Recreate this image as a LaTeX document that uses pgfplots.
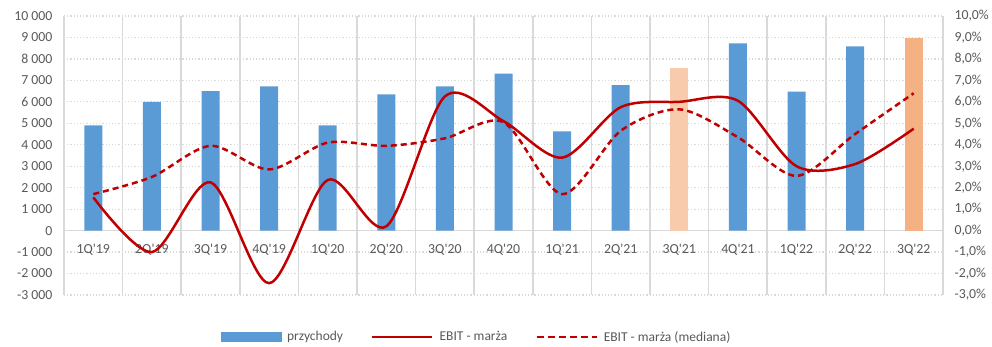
\documentclass[border=0pt]{standalone}
\usepackage{fontspec}
\setmainfont{Carlito}[Ligatures=TeXOff]
\usepackage{pgfplots}
\pgfplotsset{compat=1.18}
\definecolor{barblue}{HTML}{5B9BD5}
\definecolor{peachl}{HTML}{F8CBAD}
\definecolor{peachd}{HTML}{F4B183}
\definecolor{ebit}{HTML}{C00000}
\definecolor{gridc}{HTML}{D9D9D9}
\definecolor{txt}{HTML}{595959}
\pgfplotsset{
 common/.style={
  scale only axis, width=879pt, height=279pt, at={(64pt,52pt)}, anchor=south west,
  xmin=-0.5, xmax=14.5,
  /pgf/number format/assume math mode=true,
 }
}
\newcommand{\tickfont}{\fontsize{13.8}{16}\selectfont}
\begin{document}
\begin{tikzpicture}
\useasboundingbox (0,0) rectangle (992pt,347pt);
\begin{axis}[common,
 ymin=-3000, ymax=10000, ytick={-3000,-2000,...,10000},
 scaled y ticks=false,
 axis line style={draw=none},
 tick style={draw=none},
 major tick length=0pt, minor tick length=0pt,
 ymajorgrids, major grid style={gridc, line width=1.2pt, dash pattern=on 1.2pt off 2pt},
 xtick={0,...,14},
 xticklabels={1Q'19,2Q'19,3Q'19,4Q'19,1Q'20,2Q'20,3Q'20,4Q'20,1Q'21,2Q'21,3Q'21,4Q'21,1Q'22,2Q'22,3Q'22},
 minor xtick={-0.5,0.5,...,14.5},
 xminorgrids, minor grid style={gridc, line width=1.5pt},
 extra y ticks={0}, extra y tick labels={},
 extra y tick style={grid=major, major grid style={gridc, line width=1.5pt, solid}},
 ytick pos=left, xtick pos=bottom,
 yticklabel style={font=\tickfont, text=txt, xshift=-8pt},
 /pgf/number format/1000 sep={\ },
 xticklabel style={font=\tickfont, text=txt, yshift=54pt},
 ybar, bar width=18pt,
]
\addplot[fill=barblue, draw=none, bar shift=0pt] coordinates {
(0,4900) (1,6000) (2,6500) (3,6720) (4,4900) (5,6350) (6,6720) (7,7320)
(8,4620) (9,6780) (11,8720) (12,6480) (13,8580)};
\addplot[fill=peachl, draw=none, bar shift=0pt] coordinates {(10,7570)};
\addplot[fill=peachd, draw=none, bar shift=0pt] coordinates {(14,8970)};
\end{axis}
\begin{axis}[common,
 ymin=-3, ymax=10, ytick={-3,-2,...,10},
 axis x line=none, axis y line*=right,
 y axis line style={draw=none}, tick style={draw=none}, major tick length=0pt,
 yticklabel={\pgfmathprintnumber[fixed,fixed zerofill,precision=1,use comma]{\tick}\%},
 yticklabel style={font=\tickfont, text=txt, xshift=8pt},
 legend columns=3,
 legend style={at={(0.5,0)}, anchor=center, yshift=-42pt, xshift=-27pt, draw=none, fill=none,
   font=\fontsize{13.5}{15}\selectfont, text=txt,
   /tikz/every odd column/.append style={column sep=4pt},
   /tikz/every even column/.append style={column sep=26pt}},
]
\addlegendimage{legend image code/.code={\fill[barblue] (0pt,-4pt) rectangle (60pt,5pt);}}
\addlegendentry{przychody}
\addplot[ebit, line width=2.5pt, smooth, tension=0.5,
 legend image code/.code={\draw[ebit, line width=2.5pt] (0pt,0pt) -- (60pt,0pt);}] coordinates {
(0,1.55) (1,-1.0) (2,2.25) (3,-2.45) (4,2.36) (5,0.2) (6,6.25) (7,5.1)
(8,3.4) (9,5.75) (10,6.0) (11,6.05) (12,3.0) (13,3.1) (14,4.75)};
\addlegendentry{EBIT - marża}
\addplot[ebit, line width=2.5pt, smooth, tension=0.5, dash pattern=on 6pt off 4pt,
 legend image code/.code={\draw[ebit, line width=2.5pt, dash pattern=on 7pt off 4pt] (0pt,0pt) -- (60pt,0pt);}] coordinates {
(0,1.7) (1,2.5) (2,3.95) (3,2.85) (4,4.1) (5,3.95) (6,4.3) (7,5.05)
(8,1.7) (9,4.65) (10,5.65) (11,4.35) (12,2.55) (13,4.5) (14,6.4)};
\addlegendentry{EBIT - marża (mediana)}
\end{axis}
\end{tikzpicture}
\end{document}
